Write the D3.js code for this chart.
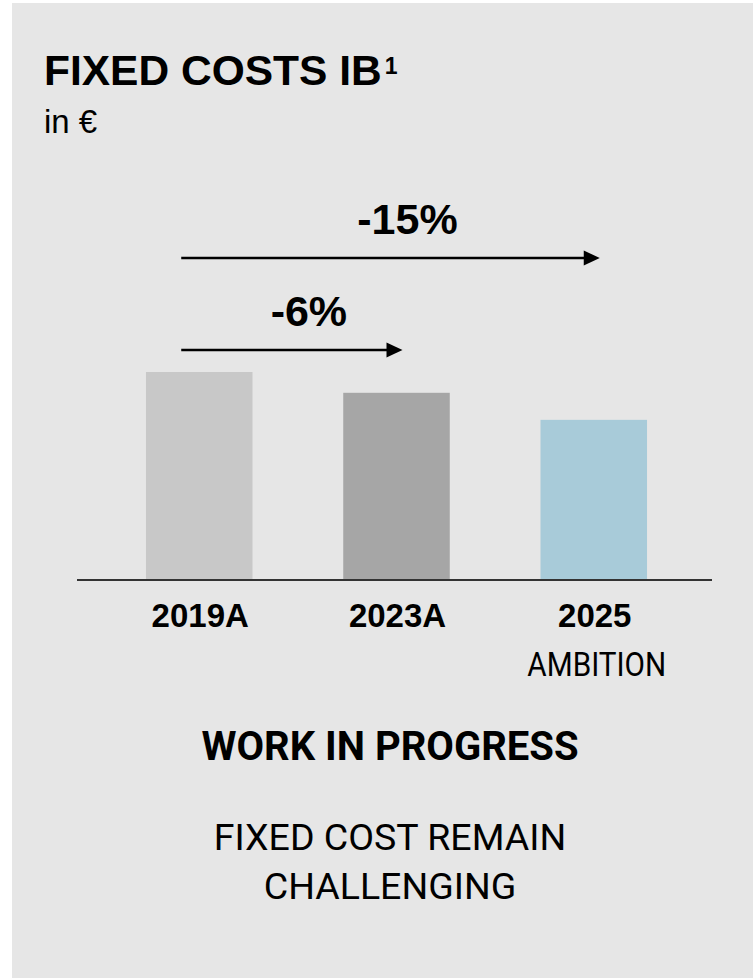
<!DOCTYPE html>
<html>
<head>
<meta charset="utf-8">
<script src="https://cdn.jsdelivr.net/npm/d3@7"></script>
<style>
  html, body { margin: 0; padding: 0; background: #fff; }
  svg { display: block; }
</style>
</head>
<body>
<div id="chart"></div>
<script>
	// данные
	var categories = ['2019A', '2023A', '2025'];
	var subLabels = ['', '', 'AMBITION'];
	var values = [100, 90, 77]; // относительный уровень, 2019A = 100
	var barColors = ['#c8c8c8', '#a6a6a6', '#a8cbd9'];
	var changeLabels = ['-15%', '-6%'];
	var changeFrom = ['2019A', '2019A'];
	var changeTo = ['2025', '2023A'];
	var footerTitle = 'WORK IN PROGRESS';
	var footerLines = ['FIXED COST REMAIN', 'CHALLENGING'];

	var W = 753, H = 979;
	var baseY = 580; // базовая линия
	var barTop = 372;
	var arrowY = [258, 350];

	var svg = d3.select('#chart').append('svg')
		.attr('width', W)
		.attr('height', H);

	svg.append('rect')
		.attr('x', 12).attr('y', 3)
		.attr('width', W - 12).attr('height', 975)
		.attr('fill', '#e6e6e6');

	var x = d3.scaleBand()
		.domain(categories)
		.range([100.6, 692.4])
		.paddingInner(0.46)
		.paddingOuter(0.23);

	var y = d3.scaleLinear()
		.domain([0, d3.max(values)])
		.range([baseY, barTop]);

	// заголовок
	var title = svg.append('text')
		.attr('x', 44).attr('y', 85)
		.attr('font-family', 'Liberation Sans, Arial, sans-serif')
		.attr('font-weight', 'bold')
		.attr('font-size', 42.5)
		.attr('fill', '#000')
		.text('FIXED COSTS IB');
	title.append('tspan')
		.attr('dx', 3)
		.attr('dy', -11)
		.attr('font-size', 23)
		.text('1');

	svg.append('text')
		.attr('x', 44).attr('y', 133)
		.attr('font-family', 'Liberation Sans, Arial, sans-serif')
		.attr('font-size', 33)
		.attr('fill', '#000')
		.text('in €');

	// столбцы
	svg.selectAll('rect.bar')
		.data(categories)
		.enter().append('rect')
		.attr('class', 'bar')
		.attr('x', function(d) { return x(d); })
		.attr('y', function(d, i) { return y(values[i]); })
		.attr('width', x.bandwidth())
		.attr('height', function(d, i) { return baseY - y(values[i]); })
		.attr('fill', function(d, i) { return barColors[i]; });

	svg.append('line')
		.attr('x1', 77).attr('x2', 712)
		.attr('y1', baseY).attr('y2', baseY)
		.attr('stroke', '#333')
		.attr('stroke-width', 2);

	// подписи категорий
	svg.selectAll('text.cat')
		.data(categories)
		.enter().append('text')
		.attr('class', 'cat')
		.attr('x', function(d) { return x(d) + x.bandwidth() / 2 + 1; })
		.attr('y', 627)
		.attr('text-anchor', 'middle')
		.attr('font-family', 'Liberation Sans, Arial, sans-serif')
		.attr('font-weight', 'bold')
		.attr('font-size', 33)
		.attr('fill', '#000')
		.text(function(d) { return d; });

	// AMBITION - узкий шрифт, сжимаем по горизонтали
	svg.selectAll('text.sub')
		.data(categories)
		.enter().append('text')
		.attr('class', 'sub')
		.attr('transform', function(d) { return 'translate(' + (x(d) + x.bandwidth() / 2 + 3) + ',676) scale(0.9,1)'; })
		.attr('text-anchor', 'middle')
		.attr('font-family', 'Roboto, sans-serif')
		.attr('font-size', 33)
		.attr('fill', '#000')
		.text(function(d, i) { return subLabels[i]; });

	// стрелки изменения
	for (var i = 0; i < changeLabels.length; i += 1)
	{
		var x1 = x(changeFrom[i]) + x.bandwidth() / 2 - 18;
		var tip = x(changeTo[i]) + x.bandwidth() / 2 + 6;
		var yy = arrowY[i];

		svg.append('line')
			.attr('x1', x1).attr('x2', tip - 14)
			.attr('y1', yy).attr('y2', yy)
			.attr('stroke', '#000')
			.attr('stroke-width', 2.5);

		svg.append('path')
			.attr('d', 'M' + (tip - 16) + ' ' + (yy - 7.5) + 'L' + tip + ' ' + yy + 'L' + (tip - 16) + ' ' + (yy + 7.5) + 'Z')
			.attr('fill', '#000');

		svg.append('text')
			.attr('x', (x1 + tip) / 2 + 17)
			.attr('y', yy - 24)
			.attr('text-anchor', 'middle')
			.attr('font-family', 'Liberation Sans, Arial, sans-serif')
			.attr('font-weight', 'bold')
			.attr('font-size', 43)
			.attr('fill', '#000')
			.text(changeLabels[i]);
	}

	// подвал
	svg.append('text')
		.attr('x', 390).attr('y', 760)
		.attr('text-anchor', 'middle')
		.attr('font-family', 'Roboto, sans-serif')
		.attr('font-weight', 'bold')
		.attr('font-size', 40)
		.attr('fill', '#000')
		.text(footerTitle);

	svg.selectAll('text.foot')
		.data(footerLines)
		.enter().append('text')
		.attr('class', 'foot')
		.attr('x', 390)
		.attr('y', function(d, i) { return 850 + i * 49; })
		.attr('text-anchor', 'middle')
		.attr('font-family', 'Roboto, sans-serif')
		.attr('font-size', 37.5)
		.attr('fill', '#000')
		.text(function(d) { return d; });
</script>
</body>
</html>
